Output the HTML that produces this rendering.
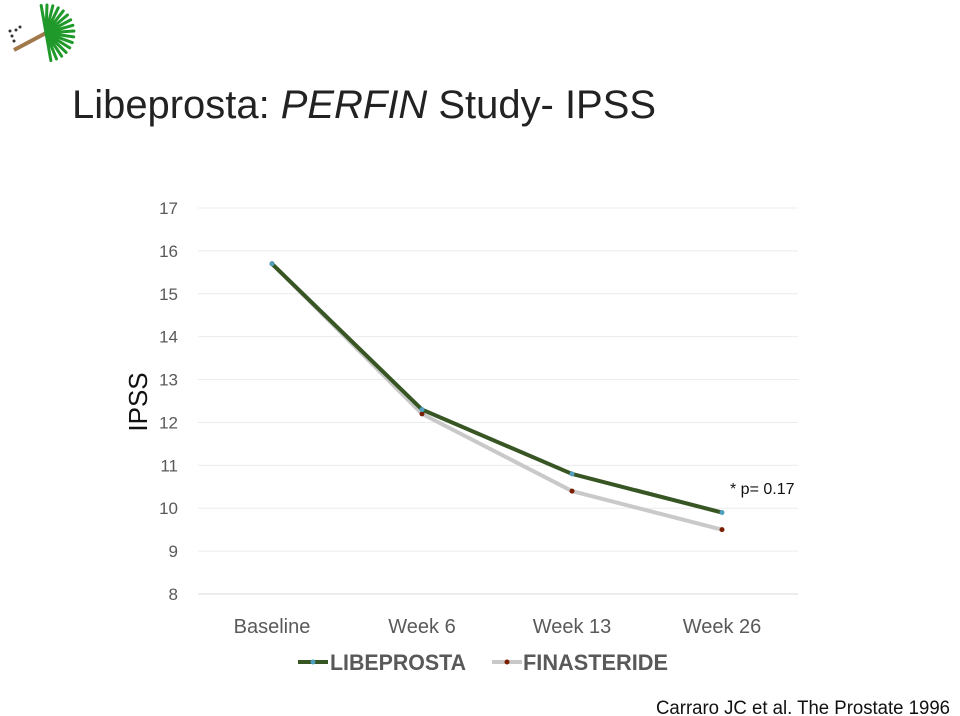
<!DOCTYPE html>
<html><head><meta charset="utf-8"><style>
body{margin:0;width:960px;height:716px;background:#fff;overflow:hidden;position:relative;font-family:"Liberation Sans",sans-serif}
</style></head><body>
<svg width="960" height="716" style="position:absolute;left:0;top:0">
<g>
<line x1="14" y1="50" x2="46" y2="33" stroke="#a0784a" stroke-width="4"/>
<g id="fronds"></g>
<circle cx="12" cy="36" r="1.5" fill="#333"/><circle cx="16" cy="30" r="1.5" fill="#333"/><circle cx="20" cy="27" r="1.5" fill="#333"/><circle cx="10" cy="31" r="1.5" fill="#333"/><circle cx="14" cy="41" r="1.5" fill="#333"/>
</g>
<text x="72" y="118" font-size="40" fill="#222" textLength="584" lengthAdjust="spacingAndGlyphs">Libeprosta: <tspan font-style="italic">PERFIN</tspan> Study- IPSS</text>
<g id="chart"></g>
<text x="147" y="402" font-size="26" fill="#111" transform="rotate(-90 147 402)" text-anchor="middle">IPSS</text>
<text x="730" y="494" font-size="16" fill="#111">* p= 0.17</text>
<g>
<g>
<line x1="298" y1="662" x2="328" y2="662" stroke="#375623" stroke-width="4"/><circle cx="313" cy="662" r="2.5" fill="#4f9fbf"/>
<text x="330" y="670" font-size="22" font-weight="bold" fill="#595959" textLength="136" lengthAdjust="spacingAndGlyphs">LIBEPROSTA</text></g>
<g>
<line x1="492" y1="662" x2="522" y2="662" stroke="#c9c9c9" stroke-width="4"/><circle cx="507" cy="662" r="2.5" fill="#7a1f00"/>
<text x="523" y="670" font-size="22" font-weight="bold" fill="#595959" textLength="145" lengthAdjust="spacingAndGlyphs">FINASTERIDE</text></g>
</g>
<text x="656" y="714" font-size="19" fill="#111" textLength="294" lengthAdjust="spacingAndGlyphs">Carraro JC et al. The Prostate 1996</text>
</svg>
<script>
const categories=["Baseline","Week 6","Week 13","Week 26"];
const libeprosta=[15.7,12.3,10.8,9.9];
const finasteride=[15.7,12.2,10.4,9.5];
const yTicks=[8,9,10,11,12,13,14,15,16,17];
const NS="http://www.w3.org/2000/svg";
const g=document.getElementById('chart');
const x=i=>272+i*150, y=v=>594-(v-8)*(386/9);
function mk(t,a,p){const e=document.createElementNS(NS,t);for(const k in a)e.setAttribute(k,a[k]);(p||g).appendChild(e);return e;}
yTicks.forEach(v=>{const l=mk('line',{x1:198,x2:798,y1:y(v),y2:y(v),stroke:v==8?'#d9d9d9':'#ececec','stroke-width':1});


const t=mk('text',{x:178,y:y(v)+6,'font-size':17,fill:'#595959','text-anchor':'end'});t.textContent=v;

});
categories.forEach((c,i)=>{const t=mk('text',{x:x(i),y:633,'font-size':20,fill:'#595959','text-anchor':'middle'});t.textContent=c;

});
function series(d,col,w,mc,name){const p=mk('polyline',{points:d.map((v,i)=>x(i)+','+y(v)).join(' '),fill:'none',stroke:col,'stroke-width':w});


d.forEach((v,i)=>{const c=mk('circle',{cx:x(i),cy:y(v),r:2.5,fill:mc});

});}
series(finasteride,'#c9c9c9',4,'#7a1f00','finasteride');
series(libeprosta,'#375623',4,'#4f9fbf','libeprosta');
const f=document.getElementById('fronds');
for(let a=-100;a<=80;a+=12){const r=a*Math.PI/180;mk('line',{x1:46,y1:33,x2:46+28*Math.cos(r),y2:33+28*Math.sin(r),stroke:'#1f9a2a','stroke-width':3,'stroke-linecap':'round'},f);}
</script>
</body></html>
